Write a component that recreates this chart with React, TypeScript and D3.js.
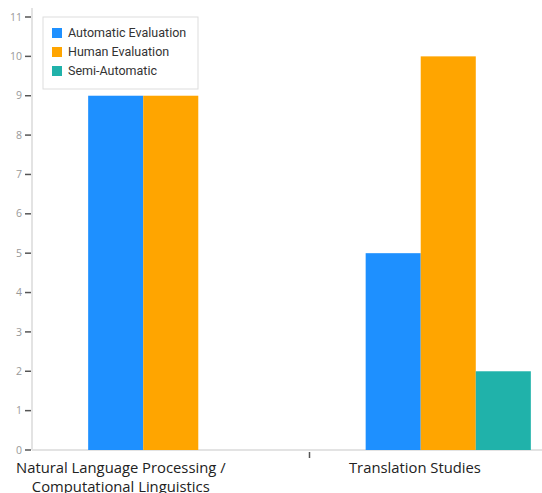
import React, { useEffect, useRef } from 'react';
import { select, scaleLinear, scaleBand, range } from 'd3';

const categories = ['Natural Language Processing / Computational Linguistics', 'Translation Studies'];
const categoryLines = [['Natural Language Processing /', 'Computational Linguistics'], ['Translation Studies']];
const seriesNames = ['Automatic Evaluation', 'Human Evaluation', 'Semi-Automatic'];
const automatic = [9, 5];
const human = [9, 10];
const semiAutomatic = [0, 2];
const yTicks = range(0, 12);
const colors = ['#1E90FF', '#FFA500', '#20B2AA'];

export default function App() {
  const svgRef = useRef<SVGSVGElement>(null);
  const width = 542;
  const height = 493;

  useEffect(() => {
    const svg = select(svgRef.current);
    svg.selectAll('*').remove();

    const x0 = 32;
    const bottom = 450;
    const yScale = scaleLinear().domain([0, 11]).range([bottom, 17]);
    // plot area runs past the right edge of the picture
    const xScale = scaleBand<string>().domain(categories).range([x0, 587]);
    const inner = scaleBand<string>()
      .domain(seriesNames)
      .range([0, xScale.bandwidth()])
      .paddingOuter(1.02);
    // labels sit left of the band centres in the original
    const labelShift = [0.32, 0.38];

    const values = [automatic, human, semiAutomatic];

    // axes lines
    svg.append('line')
      .attr('x1', x0).attr('x2', x0).attr('y1', 8).attr('y2', bottom)
      .attr('stroke', '#e3e3e3').attr('stroke-width', 2);
    svg.append('line')
      .attr('x1', x0).attr('x2', width).attr('y1', bottom).attr('y2', bottom)
      .attr('stroke', '#e3e3e3').attr('stroke-width', 2);

    // bars
    categories.forEach((c, ci) => {
      seriesNames.forEach((s, si) => {
        const v = values[si][ci];
        if (!v) return;
        svg.append('rect')
          .attr('x', (xScale(c) ?? 0) + (inner(s) ?? 0))
          .attr('y', yScale(v))
          .attr('width', inner.bandwidth())
          .attr('height', bottom - yScale(v))
          .attr('fill', colors[si]);
      });
    });

    // y ticks
    const yg = svg.append('g');
    yTicks.forEach(t => {
      yg.append('line')
        .attr('x1', x0 - 7).attr('x2', x0 - 1)
        .attr('y1', yScale(t)).attr('y2', yScale(t))
        .attr('stroke', '#555').attr('stroke-width', 1.5);
      yg.append('text')
        .attr('x', x0 - 10).attr('y', yScale(t))
        .attr('dy', '0.35em')
        .attr('text-anchor', 'end')
        .attr('font-family', 'Open Sans')
        .attr('font-size', 10.5)
        .attr('fill', '#999')
        .text(t);
    });

    // x tick between groups
    const mid = (xScale(categories[1]) ?? 0);
    svg.append('line')
      .attr('x1', mid).attr('x2', mid).attr('y1', bottom + 2).attr('y2', bottom + 8)
      .attr('stroke', '#555').attr('stroke-width', 1.5);

    // x labels
    categories.forEach((c, ci) => {
      const cx = (xScale(c) ?? 0) + xScale.bandwidth() * labelShift[ci];
      const t = svg.append('text')
        .attr('text-anchor', 'middle')
        .attr('font-family', 'Open Sans')
        .attr('font-size', 14.8)
        .attr('fill', '#222');
      categoryLines[ci].forEach((line, li) => {
        t.append('tspan').attr('x', cx).attr('y', 473 + li * 18.5).text(line);
      });
    });

    // legend
    const lg = svg.append('g').attr('transform', 'translate(43,17)');
    lg.append('rect')
      .attr('x', 0).attr('y', 0).attr('width', 155).attr('height', 72)
      .attr('fill', 'white').attr('stroke', '#ddd');
    seriesNames.forEach((s, i) => {
      lg.append('rect')
        .attr('x', 9).attr('y', 11 + i * 19).attr('width', 10).attr('height', 10)
        .attr('fill', colors[i]);
      lg.append('text')
        .attr('x', 25).attr('y', 16 + i * 19)
        .attr('dy', '0.35em')
        .attr('font-family', 'Roboto')
        .attr('font-size', 12.5)
        .attr('fill', '#333')
        .text(s);
    });
  }, []);

  return (
    <div style={{ position: 'absolute', left: 0, top: 0 }}>
      <svg ref={svgRef} width={width} height={height} style={{ display: 'block' }}></svg>
    </div>
  );
}
